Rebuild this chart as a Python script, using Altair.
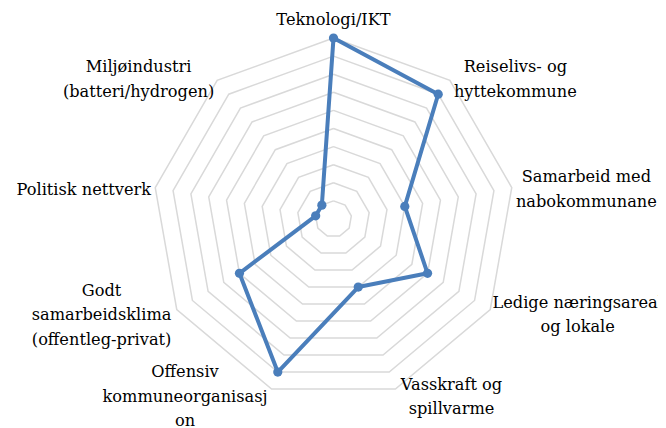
import math
import altair as alt
import pandas as pd

# ---- data ----
categories = [
    "Teknologi/IKT",
    "Reiselivs- og\nhyttekommune",
    "Samarbeid med\nnabokommunane",
    "Ledige næringsareal\nog lokale",
    "Vasskraft og\nspillvarme",
    "Offensiv\nkommuneorganisasj\non",
    "Godt\nsamarbeidsklima\n(offentleg-privat)",
    "Politisk nettverk",
    "Miljøindustri\n(batteri/hydrogen)",
]
values = [10, 9, 4, 6, 4, 9, 6, 1, 1]
grid_levels = [1, 2, 3, 4, 5, 6, 7, 8, 9, 10]
max_level = 10

# ---- layout / style ----
W, H = 650, 420
CX, CY = 325.5, 211.0          # centre of the radar in chart pixels
S = 18.1                       # pixels per unit value
FONT = "DejaVu Serif"
FS = 16.2
MEASURE_FS = 20.5              # Times-metric size equivalent to the rendered width
LH = 24.5
BLUE = "#4A7EBB"
GRID = "#D9D9D9"

n = len(categories)


def ang(i):
    return 2 * math.pi * i / n


rows = []
for k in range(n + 1):
    i = k % n
    v = values[i]
    rows.append({"order": k, "x": v * math.sin(ang(i)), "y": v * math.cos(ang(i)),
                 "cat": categories[i].replace("\n", " "), "value": v})
series = pd.DataFrame(rows)

grows = []
for lv in grid_levels:
    for k in range(n + 1):
        i = k % n
        grows.append({"level": lv, "order": k,
                      "x": lv * math.sin(ang(i)), "y": lv * math.cos(ang(i))})
grid = pd.DataFrame(grows)

TIMES = {' ': 250, '(': 333, ')': 333, '-': 333, '/': 278, 'a': 444, 'b': 500, 'c': 444,
         'd': 500, 'e': 444, 'f': 333, 'g': 500, 'h': 500, 'i': 278, 'j': 278, 'k': 500,
         'l': 278, 'm': 778, 'n': 500, 'o': 500, 'p': 500, 'q': 500, 'r': 333, 's': 389,
         't': 278, 'u': 500, 'v': 500, 'w': 722, 'x': 500, 'y': 500, 'z': 444, 'æ': 667,
         'ø': 500, 'å': 444, 'G': 722, 'I': 333, 'K': 722, 'L': 611, 'M': 889, 'O': 722,
         'P': 556, 'R': 667, 'S': 556, 'T': 611, 'V': 722}


def text_w(s):
    return sum(TIMES.get(c, 500) for c in s) * MEASURE_FS / 1000.0


TOP_GAP = 6.0
SIDE_GAP = 4.0
R = max_level * S
lrows = []
for i, lab in enumerate(categories):
    t = ang(i)
    st, ct = math.sin(t), math.cos(t)
    vx, vy = R * st, -R * ct
    lines = lab.split("\n")
    w = max(text_w(l) for l in lines)
    h = len(lines) * LH
    if abs(st) < 0.1:
        cx = vx
        cy = vy - (TOP_GAP + h / 2) if ct > 0 else vy + TOP_GAP + h / 2
    else:
        cx = vx + math.copysign(SIDE_GAP + w / 2, st)
        cy = vy + 3 - 5 * ct
    cy_first = cy - (len(lines) - 1) * LH / 2
    lrows.append({"label": lab, "x": cx / S, "y": -cy_first / S})
labels = pd.DataFrame(lrows)

xs = alt.Scale(domain=[-CX / S, (W - CX) / S], nice=False, zero=False)
ys = alt.Scale(domain=[-(H - CY) / S, CY / S], nice=False, zero=False)
X = alt.X("x:Q", scale=xs, axis=None)
Y = alt.Y("y:Q", scale=ys, axis=None)

grid_layer = alt.Chart(grid).mark_line(color=GRID, strokeWidth=1.5).encode(
    x=X, y=Y, detail="level:N", order="order:Q")

line_layer = alt.Chart(series).mark_line(color=BLUE, strokeWidth=4, strokeJoin="round").encode(
    x=X, y=Y, order="order:Q")

point_layer = alt.Chart(series[series["order"] < n]).mark_point(
    filled=True, color=BLUE, size=85, opacity=1, shape="circle").encode(
    x=X, y=Y, tooltip=["cat:N", "value:Q"])

text_layer = alt.Chart(labels).mark_text(
    font=FONT, fontSize=FS, lineHeight=LH, lineBreak="\n", align="center",
    baseline="middle", color="#000000").encode(x=X, y=Y, text="label:N")

chart = alt.layer(grid_layer, line_layer, point_layer, text_layer).properties(
    width=W, height=H, padding=0, autosize="none", background="#FFFFFF"
).configure_view(stroke=None).configure_text(font=FONT)

chart.save("out.html", embed_options={"renderer": "svg", "actions": False})
